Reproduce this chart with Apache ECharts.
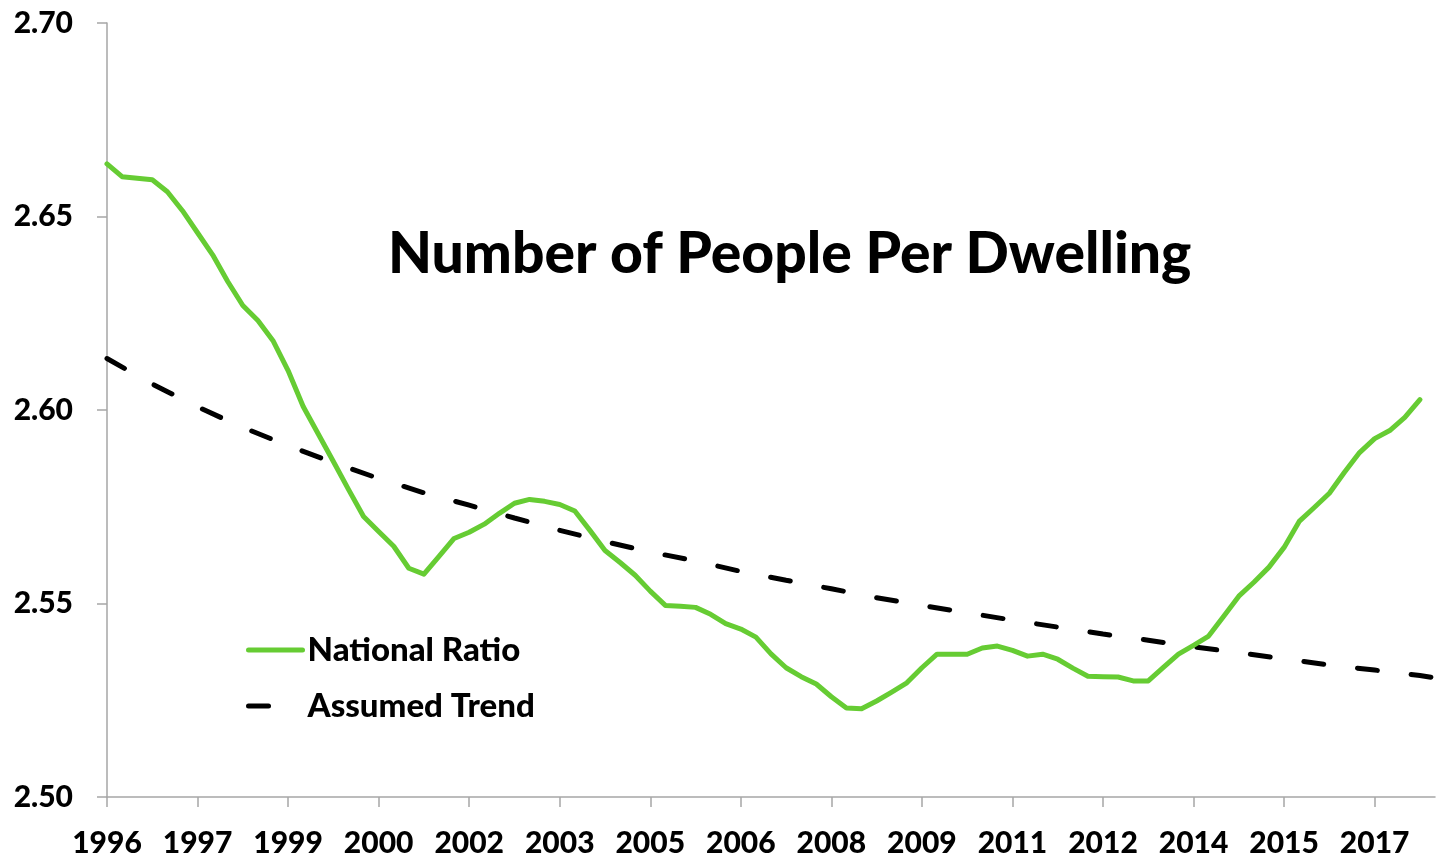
<!DOCTYPE html>
<html>
<head>
<meta charset="utf-8">
<title>Number of People Per Dwelling</title>
<script src="https://cdn.jsdelivr.net/npm/echarts@6/dist/echarts.min.js"></script>
<style>
    html, body { margin: 0; padding: 0; background: #fff; }
    #main { width: 1441px; height: 858px; }
</style>
</head>
<body>
<div id="main"></div>
<script>
// quarterly series, 1996 Q1 .. 2018 Q1
var startYear = 1996;
var quarterCount = 89;
var tickYears = ['1996', '1997', '1999', '2000', '2002', '2003', '2005', '2006',
                 '2008', '2009', '2011', '2012', '2014', '2015', '2017'];

// National Ratio, one value per quarter (1996 Q1 .. 2017 Q4)
var nationalRatio = [
    2.6636, 2.6603, 2.6599, 2.6595, 2.6564, 2.6515, 2.6458, 2.6401, 2.6332, 2.6270,
    2.6231, 2.6179, 2.6102, 2.6009, 2.5938, 2.5867, 2.5795, 2.5725, 2.5686, 2.5648,
    2.5591, 2.5576, 2.5622, 2.5668, 2.5684, 2.5705, 2.5733, 2.5759, 2.5769, 2.5764,
    2.5756, 2.5739, 2.5689, 2.5637, 2.5606, 2.5573, 2.5532, 2.5495, 2.5493, 2.5490,
    2.5472, 2.5448, 2.5434, 2.5413, 2.5370, 2.5334, 2.5311, 2.5292, 2.5259, 2.5230,
    2.5228, 2.5248, 2.5271, 2.5295, 2.5334, 2.5369, 2.5369, 2.5369, 2.5385, 2.5390,
    2.5379, 2.5364, 2.5369, 2.5356, 2.5333, 2.5312, 2.5311, 2.5310, 2.5300, 2.5300,
    2.5335, 2.5369, 2.5392, 2.5416, 2.5467, 2.5519, 2.5555, 2.5594, 2.5645, 2.5712,
    2.5748, 2.5785, 2.5839, 2.5890, 2.5926, 2.5947, 2.5981, 2.6027
];

// Assumed Trend, read every third quarter (index) plus the last quarter
var trendIndex = [0, 3, 6, 9, 12, 15, 18, 21, 24, 27, 30, 33, 36, 39, 42, 45,
                  48, 51, 54, 57, 60, 63, 66, 69, 72, 75, 78, 81, 84, 87, 88];
var trendValue = [2.6133, 2.6067, 2.6008, 2.5955, 2.5908, 2.5864, 2.5823, 2.5786,
                  2.5754, 2.5721, 2.5689, 2.5660, 2.5633, 2.5610, 2.5583, 2.5560,
                  2.5538, 2.5515, 2.5495, 2.5476, 2.5457, 2.5439, 2.5421, 2.5405,
                  2.5388, 2.5373, 2.5357, 2.5341, 2.5328, 2.5314, 2.5308];

var quarters = [];
for (var i = 0; i < quarterCount; i++) {
    quarters.push((startYear + Math.floor(i / 4)) + ' Q' + (i % 4 + 1));
}
var trendData = [];
for (var i = 0; i < quarterCount; i++) trendData.push(null);
for (var j = 0; j < trendIndex.length; j++) trendData[trendIndex[j]] = trendValue[j];

var font = 'Lato, "Open Sans", sans-serif';
var axisGrey = '#a6a6a6';

var chart = echarts.init(document.getElementById('main'));
var option = {
    backgroundColor: '#fff',
    animation: false,
    title: {
        text: 'Number of People Per Dwelling',
        left: 383,
        top: 221,
        textStyle: {
            fontFamily: font,
            fontWeight: 900,
            fontSize: 57,
            color: '#000'
        }
    },
    legend: {
        orient: 'vertical',
        left: 241,
        top: 627,
        itemWidth: 54,
        itemHeight: 10,
        itemGap: 20,
        itemTextGap: 5,
        itemStyle: { opacity: 0 },
        lineStyle: { width: 5, cap: 'round' },
        textStyle: {
            fontFamily: font,
            fontWeight: 900,
            fontSize: 33,
            lineHeight: 36,
            color: '#000'
        },
        data: ['National Ratio', 'Assumed Trend']
    },
    grid: {
        left: 107,
        right: 6,
        top: 23,
        bottom: 60,
        containLabel: false
    },
    xAxis: {
        type: 'category',
        boundaryGap: false,
        data: quarters,
        axisLine: { lineStyle: { color: axisGrey, width: 1.5 } },
        axisTick: { show: true, interval: 5, length: 10, lineStyle: { color: axisGrey, width: 1.5 } },
        axisLabel: {
            interval: 5,
            margin: 31,
            fontFamily: font,
            fontWeight: 900,
            fontSize: 30,
            color: '#000',
            formatter: function (value, idx) {
                return tickYears[idx / 6] || value.slice(0, 4);
            }
        },
        splitLine: { show: false }
    },
    yAxis: {
        type: 'value',
        min: 2.5,
        max: 2.7,
        interval: 0.05,
        axisLine: { show: true, lineStyle: { color: axisGrey, width: 1.5 } },
        axisTick: { show: true, length: 10, lineStyle: { color: axisGrey, width: 1.5 } },
        axisLabel: {
            margin: 34,
            fontFamily: font,
            fontWeight: 900,
            fontSize: 30,
            color: '#000',
            formatter: function (v) { return v.toFixed(2); }
        },
        splitLine: { show: false }
    },
    series: [
        {
            name: 'National Ratio',
            type: 'line',
            data: nationalRatio,
            symbol: 'none',
            lineStyle: { color: '#66cc33', width: 5, cap: 'round', join: 'round' },
            itemStyle: { color: '#66cc33' },
            z: 3
        },
        {
            name: 'Assumed Trend',
            type: 'line',
            data: trendData,
            connectNulls: true,
            symbol: 'none',
            lineStyle: { color: '#000', width: 5, type: [20, 34], cap: 'round' },
            itemStyle: { color: '#000' },
            z: 2
        }
    ]
};
chart.setOption(option);
</script>
</body>
</html>
